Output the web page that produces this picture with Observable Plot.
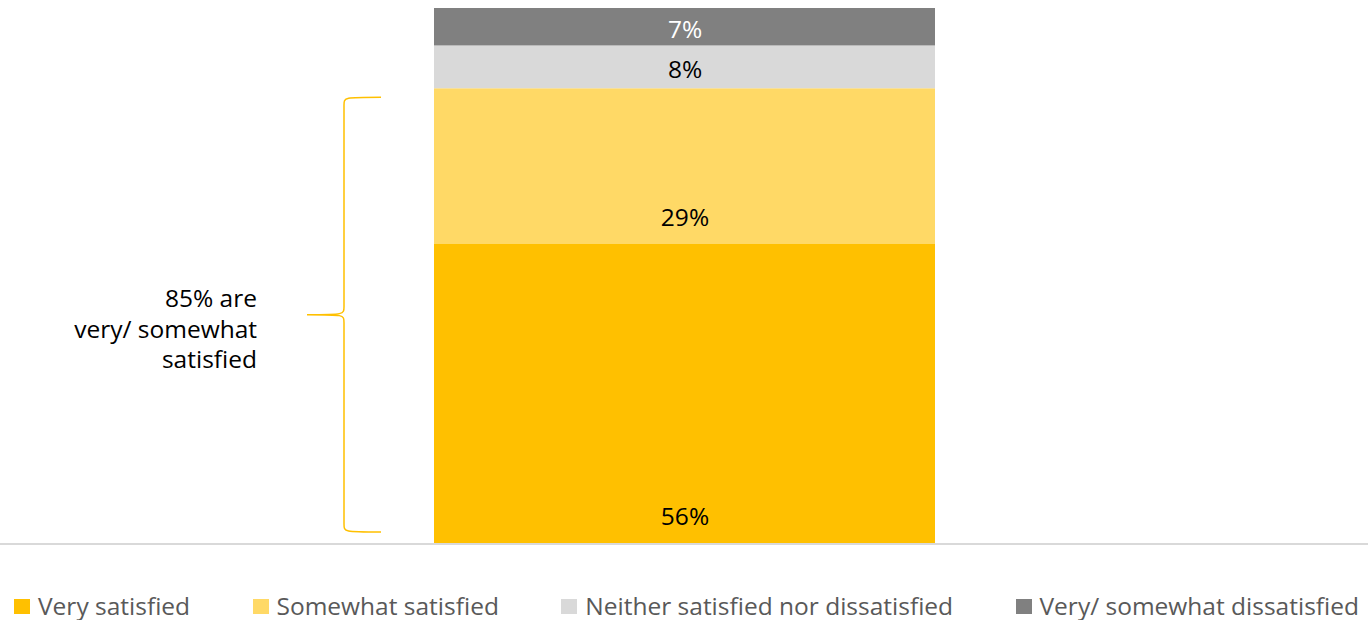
<!DOCTYPE html>
<html>
<head>
<meta charset="utf-8">
<script src="https://cdn.jsdelivr.net/npm/d3@7"></script>
<script src="https://cdn.jsdelivr.net/npm/@observablehq/plot@0.6"></script>
<style>
  html, body { margin: 0; padding: 0; background: #ffffff; }
  body { width: 1368px; height: 620px; overflow: hidden; font-family: "Open Sans", "Noto Sans", sans-serif; }
  #chart svg { display: block; }
  #legend {
    display: flex; justify-content: space-between; align-items: center;
    box-sizing: border-box; width: 1368px; padding: 0 9px 0 14px; margin-top: 32px;
    font-size: 24.5px; line-height: 28px; color: #595959;
  }
  #legend .item { display: flex; align-items: center; white-space: nowrap; }
  #legend .sw { width: 16px; height: 15px; margin-right: 8px; }
</style>
</head>
<body>
<div id="chart"></div>
<div id="legend"></div>
<script>
const categories = ["Very satisfied", "Somewhat satisfied", "Neither satisfied nor dissatisfied", "Very/ somewhat dissatisfied"];
const values = [56, 29, 8, 7];
const colors = ["#FFC000", "#FFD966", "#D9D9D9", "#808080"];
const labelColors = ["#000000", "#000000", "#000000", "#FFFFFF"];
const group = "All";
const annotationLines = ["85% are", "very/ somewhat", "satisfied"];
const bracketRange = [0, 85];

let acc = 0;
const rows = categories.map((c, i) => {
  const r = { group, category: c, value: values[i], start: acc, end: acc + values[i], labelColor: labelColors[i] };
  acc += values[i];
  return r;
});

const font = `"Open Sans", "Noto Sans", sans-serif`;

const chart = Plot.plot({
  width: 1368,
  height: 560,
  marginTop: 8,
  marginBottom: 17,
  marginLeft: 434,
  marginRight: 433,
  style: { fontFamily: font, background: "transparent" },
  x: { domain: [group], padding: 0, axis: null },
  y: { domain: [0, 100], axis: null },
  color: { domain: categories, range: colors },
  marks: [
    Plot.rectY(rows, { x: "group", y1: "start", y2: "end", fill: "category" }),
    Plot.text(rows, {
      x: "group",
      y: d => d.start + Math.min(d.value / 2 - 0.6, 4.9),
      text: d => d.value + "%",
      fill: "labelColor",
      fontSize: 24.5
    }),
    Plot.text([annotationLines.join("\n")], {
      x: () => group,
      y: () => (bracketRange[0] + bracketRange[1]) / 2,
      text: d => d,
      textAnchor: "end",
      dx: -428,
      dy: 12,
      lineHeight: 1.24,
      fontSize: 24.5,
      fill: "#000000"
    })
  ]
});

document.getElementById("chart").appendChild(chart);

const xs = chart.scale("x");
const ys = chart.scale("y");
const barLeft = xs.apply(group);
const svg = d3.select(chart);

// baseline across the full width
svg.append("line")
  .attr("x1", 0).attr("x2", 1368)
  .attr("y1", ys.apply(0) + 1).attr("y2", ys.apply(0) + 1)
  .attr("stroke", "#D9D9D9").attr("stroke-width", 2);

// curly brace for the bracketed range
const braceTop = ys.apply(bracketRange[1]) + 9;
const braceBot = ys.apply(bracketRange[0]) - 11;
const braceMid = (braceTop + braceBot) / 2;
const xv = barLeft - 90, xt = barLeft - 53, xm = barLeft - 127, rr = 8;
const p = d3.path();
p.moveTo(xt, braceTop);
p.bezierCurveTo(xv, braceTop, xv, braceTop, xv, braceTop + rr);
p.lineTo(xv, braceMid - rr);
p.bezierCurveTo(xv, braceMid, xv, braceMid, xm, braceMid);
p.bezierCurveTo(xv, braceMid, xv, braceMid, xv, braceMid + rr);
p.lineTo(xv, braceBot - rr);
p.bezierCurveTo(xv, braceBot, xv, braceBot, xt, braceBot);
svg.append("path").attr("d", p.toString())
  .attr("fill", "none").attr("stroke", "#FFC000").attr("stroke-width", 1.5);

// legend
const legend = d3.select("#legend");
categories.forEach((c, i) => {
  const it = legend.append("div").attr("class", "item");
  it.append("div").attr("class", "sw").style("background", colors[i]);
  it.append("span").text(c);
});
</script>
</body>
</html>
